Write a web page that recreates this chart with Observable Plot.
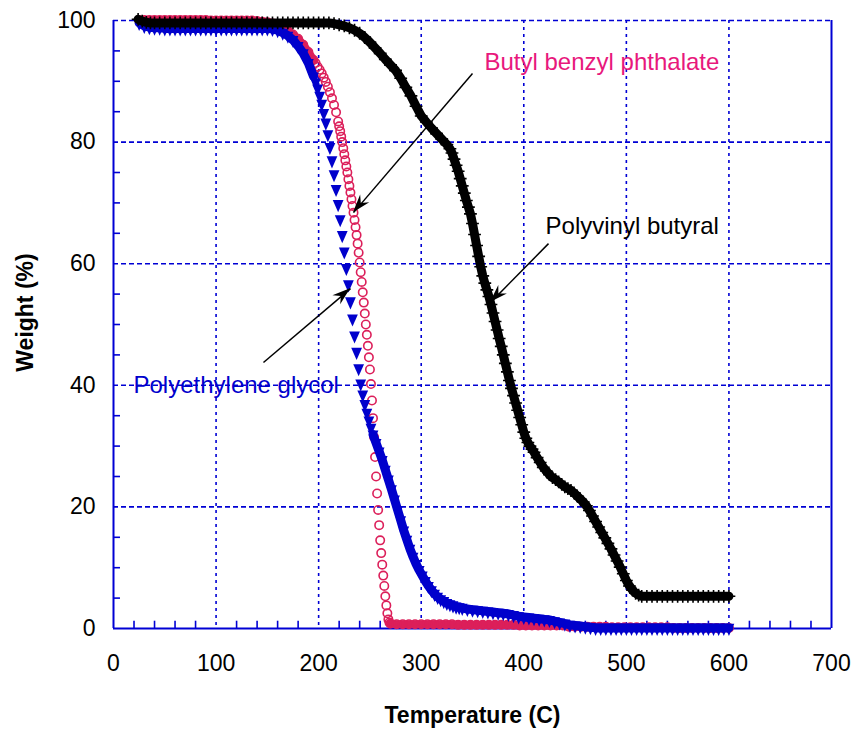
<!DOCTYPE html>
<html><head><meta charset="utf-8">
<script src="https://cdn.jsdelivr.net/npm/d3@7"></script>
<script src="https://cdn.jsdelivr.net/npm/@observablehq/plot@0.6"></script>
<style>html,body{margin:0;padding:0;background:#fff;}</style>
</head><body><div id="chart"></div>
<script>
// ---- data ----
const xTicks = [0, 100, 200, 300, 400, 500, 600, 700];
const yTicks = [0, 20, 40, 60, 80, 100];
const seriesNames = ["Butyl benzyl phthalate", "Polyethylene glycol", "Polyvinyl butyral"];

// Butyl benzyl phthalate: [temperature C, weight %]
const bbpPoints = [
[25,100.1],[30,100.1],[35,100.1],[40,100.1],[45,100.1],[50,100.1],[55,100.1],[60,100.1],[65,100.1],[70,100.1],[75,100.1],[80,100.1],[85,100.1],[90,100.1],
[95,100.0],[100,100.0],[105,100.0],[110,100.0],[115,100.0],[120,100.0],[125,100.0],[130,100.0],[135,100.0],
[140,99.9],[145,99.8],[150,99.7],[155,99.5],[160,99.2],[165,98.8],[170,98.3],[175,97.7],[180,97.0],[185,96.0],[190,94.8],[195,93.5],
[197,93.0],[199,92.4],[201,91.9],[203,91.3],[205,90.6],[207,89.9],[209,89.1],[211,88.2],[213,87.2],[215,86.1],[217,84.9],[219,83.4],
[220,82.6],[221,81.8],[222,80.9],[223,80.0],[224,79.0],[225,78.0],[226,77.0],[227,76.0],[228,75.0],[229,73.9],
[230,72.8],[231,71.7],[232,70.6],[233,69.5],[234,68.4],[235,67.2],[236,66.0],[237,64.7],[238,63.3],[239,61.8],
[240,60.2],[241,58.6],[242,57.0],[243,55.3],[244,53.6],[245,51.8],[246,50.0],[247,48.3],[248,46.5],[249,44.6],
[250,42.6],[251,40.2],[252,37.5],[253,34.6],[254,31.5],[255,28.2],[256,25.0],[257,22.2],[258,19.5],[259,17.0],
[260,14.5],[261,12.4],[262,10.5],[263,8.7],[264,7.0],[265,5.3],[266,3.8],[267,2.5],[268,1.5],[269,1.0],[270,0.8],
[276,0.7],[282,0.7],[288,0.7],[294,0.7],[300,0.7],[306,0.7],[312,0.7],[318,0.7],[324,0.7],[330,0.7],
[336,0.6],[342,0.6],[348,0.6],[354,0.6],[360,0.6],[366,0.6],[372,0.6],[378,0.6],[384,0.6],[390,0.6],
[396,0.5],[402,0.5],[408,0.5],[414,0.5],[420,0.5],[426,0.5],[432,0.5],[438,0.5],
[444,0.3],[450,0.3],[456,0.3],[462,0.3],[468,0.3],[474,0.3],[480,0.3],
[486,0.2],[492,0.2],[498,0.2],[504,0.2],[510,0.2],[516,0.2],[522,0.2],[528,0.2],[534,0.2],[540,0.2],
[546,0.1],[552,0.1],[558,0.1],[564,0.1],[570,0.1],[576,0.1],[582,0.1],[588,0.1],[594,0.1],[600,0.1]
];

// Polyethylene glycol: [temperature C, weight %]
const pegPoints = [
[25,99.6],[30,99.1],[35,98.9],[40,98.8],[45,98.8],[50,98.7],[55,98.7],[60,98.7],[65,98.7],[70,98.7],[75,98.7],[80,98.7],[85,98.7],[90,98.7],
[95,98.7],[100,98.7],[105,98.7],[110,98.7],[115,98.7],[120,98.7],[125,98.7],[130,98.7],[135,98.7],[140,98.7],[145,98.7],[150,98.7],
[155,98.6],[160,98.4],[165,98.0],[170,97.5],[175,96.8],[180,95.8],[185,94.6],[190,93.0],[195,90.8],
[197,89.8],[199,88.8],[201,87.6],[203,86.3],[205,84.8],[207,83.2],[209,81.3],[211,79.2],[213,77.0],[215,74.7],
[217,72.3],[219,69.8],[221,67.3],[223,64.7],[225,62.0],[227,59.3],[229,56.6],[231,53.8],[233,51.0],[235,48.2],
[237,45.5],[239,42.8],[241,40.3],[243,38.5],[245,36.9],[247,35.5],[249,34.2],[251,33.0],
[253,31.9],[256,30.5],[259,29.1],[262,27.7],[265,26.1],[268,24.5],[271,22.9],[274,21.2],[277,19.5],[280,17.8],
[283,16.1],[286,14.6],[289,13.1],[292,11.8],[295,10.6],[298,9.6],[301,8.7],[304,7.8],[307,7.0],[310,6.3],
[313,5.7],[316,5.2],[319,4.8],[322,4.5],[325,4.2],[328,4.0],[331,3.8],[334,3.6],[337,3.5],[340,3.4],
[345,3.2],[350,3.1],[355,3.0],[360,2.9],[365,2.8],[370,2.7],[375,2.6],[380,2.5],[385,2.4],[390,2.2],
[395,2.0],[400,1.9],[405,1.8],[410,1.7],[415,1.6],[420,1.5],[425,1.4],[430,1.2],[435,1.0],[440,0.8],
[445,0.6],[450,0.5],[455,0.4],[460,0.3],[465,0.2],[470,0.1],[475,0.1],[480,0.1],[485,0.1],[490,0.1],
[495,0.1],[500,0.1],[505,0.1],[510,0.1],[515,0.1],[520,0.1],[525,0.1],[530,0.1],[535,0.1],[540,0.1],
[545,0.1],[550,0.1],[555,0.1],[560,0.1],[565,0.1],[570,0.1],[575,0.1],[580,0.1],[585,0.1],[590,0.1],[595,0.1],[600,0.1]
];

// Polyvinyl butyral: [temperature C, weight %]
const pvbPoints = [
[24,100.2],[28,99.9],[32,99.7],[36,99.6],[40,99.6],[45,99.6],[50,99.6],[55,99.6],[60,99.6],[65,99.6],[70,99.6],[75,99.6],
[80,99.6],[85,99.6],[90,99.6],[95,99.6],[100,99.6],[105,99.6],[110,99.6],[115,99.6],[120,99.6],[125,99.6],[130,99.6],
[135,99.6],[140,99.6],[145,99.6],[150,99.6],[155,99.6],[160,99.6],[165,99.6],[170,99.6],[175,99.6],[180,99.6],[185,99.6],
[190,99.6],[195,99.6],[200,99.6],[205,99.6],[210,99.6],[215,99.5],[220,99.3],[225,99.1],[230,98.8],[235,98.4],[240,97.9],
[245,97.2],[250,96.4],[255,95.5],[260,94.6],[265,93.6],[270,92.7],[275,91.8],[280,90.5],[285,89.0],[290,87.6],[295,85.9],
[300,84.3],[305,83.3],[310,82.3],[315,81.4],[320,80.5],[325,79.6],
[328,78.9],[330,78.2],[332,77.2],[334,76.2],[336,75.2],[338,74.0],[340,72.8],[342,71.6],[344,70.4],[346,69.3],
[348,68.2],[350,66.6],[352,64.8],[354,63.0],[356,61.2],[358,59.5],[360,58.0],[362,56.8],[364,55.7],[366,54.6],
[368,53.3],[370,51.9],[372,50.5],[374,49.1],[376,47.7],[378,46.4],[380,45.0],[382,43.6],[384,42.2],[386,40.8],
[388,39.5],[390,38.3],[392,37.1],[394,35.9],[396,34.7],[398,33.5],[400,32.3],[402,31.3],[404,30.6],[406,30.0],
[408,29.5],[410,29.0],
[413,28.1],[416,27.3],[419,26.5],[422,25.9],[425,25.3],[428,24.8],[431,24.5],[434,24.1],[437,23.7],[440,23.3],
[443,23.0],[446,22.7],[449,22.3],[452,21.8],[455,21.3],[458,20.8],[461,20.2],[464,19.4],[467,18.5],[470,17.6],
[473,16.7],[476,15.8],[479,14.9],[482,14.0],[485,13.1],[488,12.1],[491,11.1],[494,10.1],[497,9.0],[500,7.9],
[503,7.0],[506,6.3],[509,5.8],[512,5.5],[515,5.3],
[520,5.3],[525,5.3],[530,5.3],[535,5.3],[540,5.3],[545,5.3],[550,5.3],[555,5.3],[560,5.3],[565,5.3],[570,5.3],
[575,5.3],[580,5.3],[585,5.3],[590,5.3],[595,5.3],[600,5.3]
];

// annotation anchors (data units), order = seriesNames
const labelT = [361.7, 19.5, 421.2];
const labelW = [93.2, 40.0, 66.2];
const arrowFromT = [350.0, 146.2, 424.1];
const arrowFromW = [91.3, 43.75, 63.3];
const arrowToT = [234.0, 231.1, 367.5];
const arrowToW = [68.4, 55.9, 53.6];

// ---- styles ----
const gridBlue = "#0000d4";
const dataBlue = "#0000cc";
const redC = "#dc1f5a";
const pinkText = "#e8187c";
const font = "'Liberation Sans', Arial, Helvetica, sans-serif";

const toObj = p => ({T: p[0], W: p[1]});
const bbp = bbpPoints.map(toObj), peg = pegPoints.map(toObj), pvb = pvbPoints.map(toObj);

const xMinor = d3.range(0, 701, 20).filter(v => v % 100 !== 0);
const yMinor = d3.range(0, 101, 5).filter(v => v % 20 !== 0);

// downward triangle, slightly taller than wide
const triDown = {draw(ctx, size) {
  const w = Math.sqrt(size / Math.PI) * 2.2, h = w * 1.12;
  ctx.moveTo(0, 2 * h / 3); ctx.lineTo(w / 2, -h / 3); ctx.lineTo(-w / 2, -h / 3); ctx.closePath();
}};
const plusSym = {draw(ctx, size) {
  const r = Math.sqrt(size / Math.PI) * 0.8;
  ctx.moveTo(-r, 0); ctx.lineTo(r, 0); ctx.moveTo(0, -r); ctx.lineTo(0, r);
}};

function arrowHeads(index, scales) {
  const g = d3.create("svg:g");
  for (let i = 0; i < arrowToT.length; i++) {
    const x1 = scales.x(arrowFromT[i]), y1 = scales.y(arrowFromW[i]);
    const x2 = scales.x(arrowToT[i]), y2 = scales.y(arrowToW[i]);
    const len = Math.hypot(x2 - x1, y2 - y1), ux = (x2 - x1) / len, uy = (y2 - y1) / len;
    const nx = -uy, ny = ux, L = 18, Wd = 6, N = 12;
    const pts = [[x2, y2], [x2 - L * ux + Wd * nx, y2 - L * uy + Wd * ny], [x2 - N * ux, y2 - N * uy], [x2 - L * ux - Wd * nx, y2 - L * uy - Wd * ny]];
    g.append("path").attr("d", "M" + pts.map(p => p[0].toFixed(2) + "," + p[1].toFixed(2)).join("L") + "Z").attr("fill", "black");
  }
  return g.node();
}

const idx = d3.range(seriesNames.length);

const chart = Plot.plot({
  width: 852, height: 729,
  marginLeft: 113, marginRight: 21, marginTop: 20, marginBottom: 101,
  style: {fontFamily: font, fontSize: "23px", color: "black", background: "white", overflow: "visible"},
  x: {domain: [0, 700], ticks: xTicks.length - 1, tickSize: 0, tickPadding: 26, label: null},
  y: {domain: [0, 100], ticks: yTicks.length - 1, tickSize: 0, tickPadding: 18, label: null},
  marks: [
    // grid
    Plot.ruleX(xTicks.filter(v => v > 0 && v < 700), {stroke: gridBlue, strokeWidth: 1.6, strokeDasharray: "3,4"}),
    Plot.ruleY(yTicks.filter(v => v > 0), {stroke: gridBlue, strokeWidth: 1.6, strokeDasharray: "5,3"}),
    // frame
    Plot.ruleX([0, 700], {stroke: gridBlue, strokeWidth: 2}),
    Plot.ruleY([0], {stroke: gridBlue, strokeWidth: 2}),
    // minor ticks inside
    Plot.ruleX(xMinor, {y1: 0, y2: 1.2, stroke: gridBlue, strokeWidth: 1.6}),
    Plot.ruleY(yMinor, {x1: 0, x2: 6.8, stroke: gridBlue, strokeWidth: 1.6}),
    // Butyl benzyl phthalate
    Plot.line(bbp, {x: "T", y: d => (d.T <= 195 || d.T >= 270) ? d.W : NaN, stroke: redC, strokeWidth: 8}),
    Plot.dot(bbp, {x: "T", y: "W", r: 4.2, stroke: redC, strokeWidth: 1.6, fill: "none"}),
    // Polyethylene glycol
    Plot.line(peg, {x: "T", y: d => (d.T <= 195 || d.T >= 253) ? d.W : NaN, stroke: dataBlue, strokeWidth: 9}),
    Plot.dot(peg, {x: "T", y: "W", r: 4.9, symbol: triDown, fill: dataBlue, stroke: "none"}),
    // Polyvinyl butyral
    Plot.line(pvb, {x: "T", y: "W", stroke: "black", strokeWidth: 9}),
    Plot.dot(pvb, {x: "T", y: "W", r: 8, symbol: plusSym, fill: "none", stroke: "black", strokeWidth: 1.6}),
    // arrows
    Plot.link(idx, {x1: i => arrowFromT[i], y1: i => arrowFromW[i], x2: i => arrowToT[i], y2: i => arrowToW[i], stroke: "black", strokeWidth: 1.5}),
    arrowHeads,
    // labels
    Plot.text([0], {x: i => labelT[i], y: i => labelW[i], text: i => seriesNames[i], fill: pinkText, textAnchor: "start", fontSize: 24}),
    Plot.text([1], {x: i => labelT[i], y: i => labelW[i], text: i => seriesNames[i], fill: dataBlue, textAnchor: "start", fontSize: 24}),
    Plot.text([2], {x: i => labelT[i], y: i => labelW[i], text: i => seriesNames[i], fill: "black", textAnchor: "start", fontSize: 24}),
    // axis titles
    Plot.text(["Temperature (C)"], {frameAnchor: "bottom", dy: 94, fontWeight: "bold", fontSize: 23, fill: "black"}),
    Plot.text(["Weight (%)"], {frameAnchor: "left", textAnchor: "middle", dx: -88, dy: -12, rotate: -90, fontWeight: "bold", fontSize: 23, fill: "black"})
  ]
});
document.getElementById("chart").appendChild(chart);
</script>
</body></html>
